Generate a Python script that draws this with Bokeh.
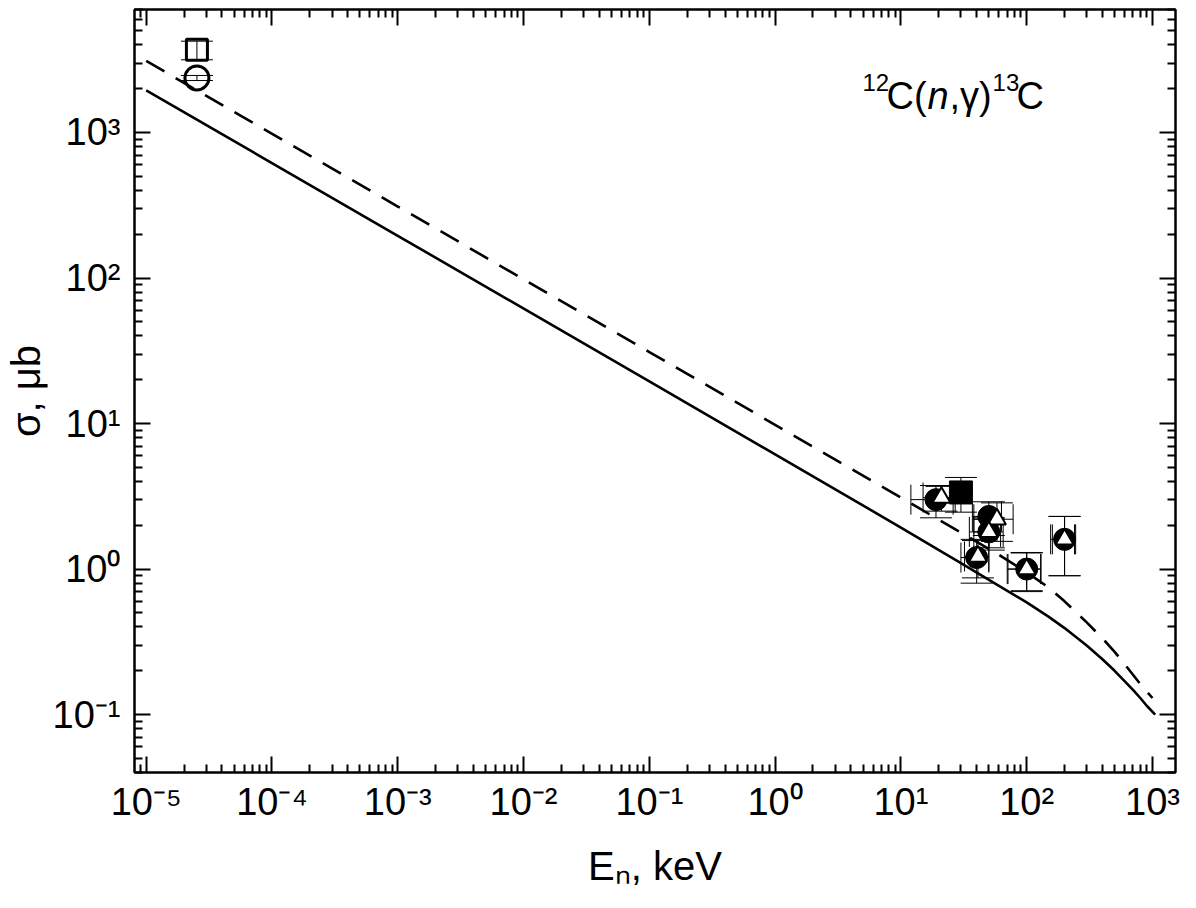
import numpy as np
from bokeh.plotting import figure
from bokeh.models import (LogAxis, FixedTicker, CustomJSTickFormatter, Whisker, TeeHead,
                          ColumnDataSource, Label, Range1d)
from bokeh.embed import file_html
from bokeh.resources import INLINE

# ---------------- data ----------------
# theory curve 1 (solid)
solid_E = [1e-5, 1e-3, 1e-1, 10, 30, 100, 150, 200, 300, 400, 500, 600, 700, 800, 900, 1050]
solid_sigma = [1950, 195, 19.5, 1.93, 1.1, 0.59, 0.469, 0.393, 0.298, 0.240, 0.200, 0.170,
               0.148, 0.130, 0.115, 0.1]
# theory curve 2 (dashed)
dash_E = [1e-5, 1e-3, 1e-1, 10, 56, 100, 150, 200, 300, 400, 500, 600, 700, 800, 900, 1000]
dash_sigma = [3100, 310, 31, 3.1, 1.3, 0.95, 0.745, 0.60, 0.43, 0.335, 0.27, 0.222, 0.188,
              0.162, 0.144, 0.13]

# thermal points
th_sq_E = [2.53e-5];  th_sq_s = [3700];  th_sq_err = [540]
th_ci_E = [2.53e-5];  th_ci_s = [2370];  th_ci_err = [95]

# filled circles
circ_E = [19, 40, 50, 50, 100, 200]
circ_s = [3.0, 1.2, 2.3, 1.8, 1.0, 1.6]
circ_xerr = [7, 10, 13, 12, 29, 45]
circ_yerr = [0.75, 0.4, 0.6, 0.45, 0.29, 0.7]
# open triangles
tri_E = [21, 41, 58, 50, 100, 200]
tri_s = [3.1, 1.22, 2.2, 1.8, 1.0, 1.6]
tri_xerr = [6, 9, 20, 15, 30, 40]
tri_yerr = [0.6, 0.35, 0.65, 0.4, 0.3, 0.7]
# filled square
sq_E = [30];  sq_s = [3.36];  sq_yerr = [0.9]

x_major = [1e-5, 1e-4, 1e-3, 1e-2, 1e-1, 1, 10, 100, 1000]
y_major = [0.1, 1, 10, 100, 1000]

FONT = "Liberation Sans"

p = figure(width=1196, height=908, x_axis_type="log", y_axis_type="log",
           x_range=Range1d(8.07e-6, 1524), y_range=Range1d(0.04, 7000),
           output_backend="svg", toolbar_location=None,
           min_border_left=134, min_border_right=21, min_border_top=9, min_border_bottom=136)
p.xgrid.visible = False
p.ygrid.visible = False
p.outline_line_color = "black"
p.outline_line_width = 2
p.background_fill_color = "white"
p.border_fill_color = "white"

def minors(lo, hi):
    out = []
    for d in range(lo, hi + 1):
        for k in range(2, 10):
            out.append(k * 10.0 ** d)
    return out

xt = FixedTicker(ticks=x_major, minor_ticks=minors(-6, 3))
yt = FixedTicker(ticks=y_major, minor_ticks=minors(-2, 3))

sup_code = """
const sup = {'-':'\u207b','0':'\u2070','1':'\u00b9','2':'\u00b2','3':'\u00b3','4':'\u2074',
             '5':'\u2075','6':'\u2076','7':'\u2077','8':'\u2078','9':'\u2079'};
const e = Math.round(Math.log10(tick));
return '10' + String(e).split('').map(c => sup[c]).join('');
"""
fmt = CustomJSTickFormatter(code=sup_code)
blank = CustomJSTickFormatter(code="return '';")

def style(ax, ticker, formatter):
    ax.ticker = ticker
    ax.formatter = formatter
    ax.axis_line_width = 2
    ax.axis_line_color = "black"
    ax.major_tick_in = 16
    ax.major_tick_out = 0
    ax.minor_tick_in = 8
    ax.minor_tick_out = 0
    ax.major_tick_line_width = 2
    ax.minor_tick_line_width = 2
    ax.major_tick_line_color = "black"
    ax.minor_tick_line_color = "black"
    ax.major_label_text_font = FONT
    ax.major_label_text_font_size = "38px"
    ax.major_label_text_color = "black"
    ax.axis_label_text_font = FONT
    ax.axis_label_text_font_size = "40px"
    ax.axis_label_text_font_style = "normal"
    ax.axis_label_text_color = "black"

style(p.xaxis[0], xt, fmt)
style(p.yaxis[0], yt, fmt)
p.xaxis[0].axis_label = "E\u2099, keV"
p.yaxis[0].axis_label = "\u03c3, \u03bcb"
p.xaxis[0].major_label_standoff = 8
p.yaxis[0].major_label_standoff = 14
p.xaxis[0].axis_label_standoff = 18
p.yaxis[0].axis_label_standoff = 2

top = LogAxis()
right = LogAxis()
style(top, xt, blank)
style(right, yt, blank)
top.major_label_standoff = 0
right.major_label_standoff = 0
p.add_layout(top, "above")
p.add_layout(right, "right")

# theory curves
p.line(solid_E, solid_sigma, line_color="black", line_width=2.6)
p.line(dash_E, dash_sigma, line_color="black", line_width=2.6, line_dash="21 13")

def whiskers(E, s, yerr=None, xerr=None):
    E = np.array(E, float); s = np.array(s, float)
    if yerr is not None:
        ye = np.array(yerr, float)
        src = ColumnDataSource(dict(b=E, lo=s - ye, hi=s + ye))
        p.add_layout(Whisker(source=src, base="b", lower="lo", upper="hi", dimension="height",
                             line_color="black", line_width=1,
                             upper_head=TeeHead(size=32, line_width=1, line_color="black"),
                             lower_head=TeeHead(size=32, line_width=1, line_color="black")))
    if xerr is not None:
        xe = np.array(xerr, float)
        src = ColumnDataSource(dict(b=s, lo=E - xe, hi=E + xe))
        p.add_layout(Whisker(source=src, base="b", lower="lo", upper="hi", dimension="width",
                             line_color="black", line_width=1,
                             upper_head=TeeHead(size=30, line_width=1, line_color="black"),
                             lower_head=TeeHead(size=30, line_width=1, line_color="black")))

whiskers(th_sq_E, th_sq_s, yerr=th_sq_err)
whiskers(th_ci_E, th_ci_s, yerr=th_ci_err)
whiskers(circ_E, circ_s, yerr=circ_yerr, xerr=circ_xerr)
whiskers(tri_E, tri_s, yerr=tri_yerr, xerr=tri_xerr)
whiskers(sq_E, sq_s, yerr=sq_yerr)

# markers
p.scatter(th_sq_E, th_sq_s, marker="square", size=21, fill_color=None, line_color="black", line_width=3)
p.scatter(th_ci_E, th_ci_s, marker="circle", size=24, fill_color=None, line_color="black", line_width=3)
p.scatter(sq_E, sq_s, marker="square", size=23, fill_color="black", line_color="black")
p.scatter(circ_E, circ_s, marker="circle", size=22, fill_color="black", line_color="black")
p.scatter(tri_E, tri_s, marker="triangle", size=18, fill_color="white", line_color="black", line_width=2)

# reaction label  12C(n,γ)13C
pieces = [
    ("12", 4.95, 2205, "24px", "normal"),
    ("C(", 7.68, 1768, "38px", "normal"),
    ("n", 16.3, 1768, "38px", "italic"),
    (",\u03b3)", 24.3, 1768, "38px", "normal"),
    ("13", 53.5, 2205, "24px", "normal"),
    ("C", 83.0, 1768, "38px", "normal"),
]
for t, x, y, fs, st in pieces:
    p.add_layout(Label(x=x, y=y, text=t, text_font=FONT, text_font_size=fs,
                       text_font_style=st, text_color="black", text_baseline="alphabetic",
                       text_align="left"))

open("out.html", "w").write(file_html(p, INLINE))
